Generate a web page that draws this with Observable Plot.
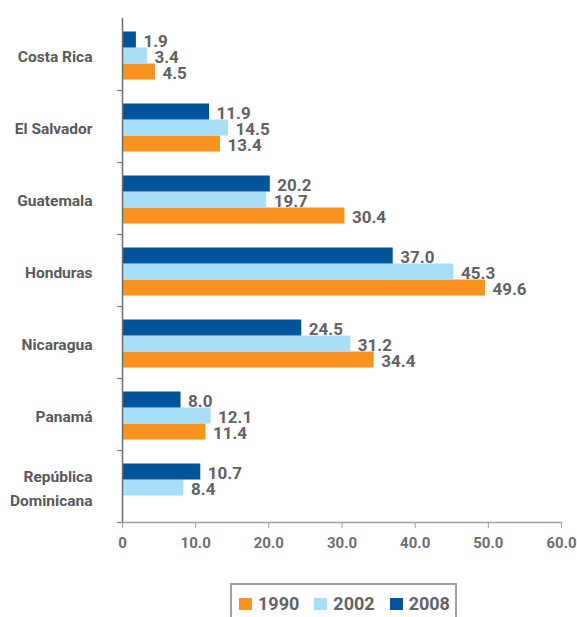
<!DOCTYPE html>
<html><head><meta charset="utf-8">
<script src="https://cdn.jsdelivr.net/npm/d3@7"></script>
<script src="https://cdn.jsdelivr.net/npm/@observablehq/plot@0.6"></script>
<style>
body{margin:0;background:#fff;}
#chart{position:absolute;left:0;top:0;}
#legend{position:absolute;left:230px;top:583px;width:227px;height:40px;border:2px solid #a3a3a3;border-bottom:none;display:flex;align-items:flex-start;padding-top:9px;box-sizing:border-box;padding-left:7px;font-family:Roboto,sans-serif;font-weight:bold;font-size:18px;color:#636466;}
.item{display:flex;align-items:center;margin-right:15px;line-height:20px;}
.sw{width:13px;height:12px;margin-right:6px;}
</style></head>
<body><div id="chart"></div><div id="legend"></div>
<script>
const countries = ["Costa Rica","El Salvador","Guatemala","Honduras","Nicaragua","Panamá","República Dominicana"];
const years = ["1990","2002","2008"];
const v1990 = [4.5, 13.4, 30.4, 49.6, 34.4, 11.4, null];
const v2002 = [3.4, 14.5, 19.7, 45.3, 31.2, 12.1, 8.4];
const v2008 = [1.9, 11.9, 20.2, 37.0, 24.5, 8.0, 10.7];
const colors = ["#F7931E", "#A9DEF9", "#02539A"];
const xTicks = [0, 10, 20, 30, 40, 50, 60];

const series = {"1990": v1990, "2002": v2002, "2008": v2008};
const rows = [];
countries.forEach((c, i) => {
  years.forEach(y => {
    const v = series[y][i];
    if (v != null) rows.push({country: c, year: y, value: v});
  });
});

const W = 577, H = 565, mt = 17.5, mb = 42;
const step = (H - mt - mb) / countries.length;
const gray = "#616265";

const plot = Plot.plot({
  width: W, height: H,
  marginLeft: 122, marginRight: 16, marginTop: mt, marginBottom: mb,
  x: {domain: [0, 60], label: null},
  y: {domain: ["2008", "2002", "1990"], paddingInner: 0, paddingOuter: 0.7, align: 0.55, axis: null, label: null},
  fy: {domain: countries, padding: 0, axis: null, label: null},
  color: {domain: years, range: colors},
  marks: [
    Plot.barX(rows, {x: "value", y: "year", fy: "country", fill: "year"}),
    Plot.text(rows, {x: "value", y: "year", fy: "country", text: d => d.value.toFixed(1),
      textAnchor: "start", dx: 7, dy: 1.5, fill: gray, fontWeight: "bold", fontSize: 17, fontFamily: "Roboto, sans-serif"}),
    Plot.ruleX([0], {stroke: "#6d6e71", strokeWidth: 1.5}),
    Plot.axisFy({anchor: "left", tickSize: 0, tickPadding: 30, label: null,
      tickFormat: d => d === "República Dominicana" ? "República\nDominicana" : d,
      fontSize: 15.5, fontWeight: "bold", fill: "#58595b", lineHeight: 1.55,
      fontFamily: "Roboto, sans-serif"}),
    Plot.axisFy({anchor: "left", tickSize: 5, tickFormat: () => "", label: null, dy: step / 2, stroke: "#6d6e71"}),
    Plot.frame({anchor: "bottom", facetAnchor: "bottom", stroke: "#9d9fa2", strokeWidth: 1.5}),
    Plot.axisX({ticks: xTicks, tickFormat: d => d === 0 ? "0" : d.toFixed(1), tickSize: 6, tickPadding: 9, label: null,
      stroke: "#9d9fa2", fontSize: 15, fontWeight: "bold", fill: "#6d6e71", fontFamily: "Roboto, sans-serif"})
  ],
  style: {fontFamily: "Roboto, sans-serif", background: "#fff"}
});
document.getElementById("chart").appendChild(plot);

const legend = document.getElementById("legend");
years.forEach((y, i) => {
  const it = document.createElement("div");
  it.className = "item";
  const sw = document.createElement("div");
  sw.className = "sw";
  sw.style.background = colors[i];
  const t = document.createElement("span");
  t.textContent = y;
  it.appendChild(sw); it.appendChild(t);
  legend.appendChild(it);
});
</script>
</body></html>
